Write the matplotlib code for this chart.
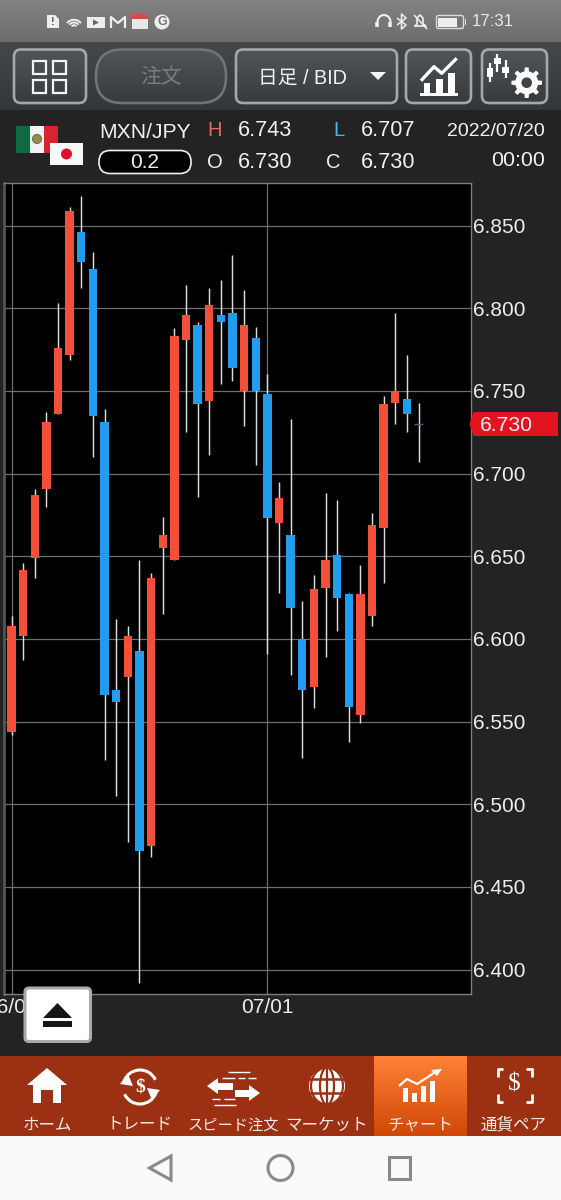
import numpy as np
import matplotlib
matplotlib.use('Agg')
import matplotlib.pyplot as plt
from matplotlib.patches import Rectangle, Circle, Polygon, FancyBboxPatch, Arc, Ellipse
from matplotlib.colors import LinearSegmentedColormap

plt.rcParams['font.family'] = ['Liberation Sans', 'Noto Sans CJK JP', 'DejaVu Sans']

# daily candles
opens = [6.544, 6.602, 6.649, 6.691, 6.736, 6.772, 6.846, 6.824, 6.731, 6.569, 6.577, 6.593,
         6.475, 6.655, 6.648, 6.781, 6.790, 6.744, 6.796, 6.797, 6.750, 6.782, 6.748, 6.670,
         6.663, 6.600, 6.571, 6.631, 6.651, 6.627, 6.554, 6.614, 6.667, 6.743, 6.745, 6.730]
highs = [6.614, 6.646, 6.691, 6.737, 6.803, 6.861, 6.868, 6.834, 6.739, 6.612, 6.608, 6.648,
         6.640, 6.674, 6.788, 6.814, 6.792, 6.812, 6.817, 6.832, 6.811, 6.789, 6.760, 6.695,
         6.733, 6.623, 6.639, 6.688, 6.684, 6.628, 6.645, 6.676, 6.747, 6.797, 6.772, 6.743]
lows = [6.542, 6.587, 6.637, 6.680, 6.736, 6.769, 6.812, 6.710, 6.527, 6.505, 6.477, 6.392,
        6.468, 6.615, 6.648, 6.725, 6.686, 6.711, 6.754, 6.756, 6.729, 6.705, 6.591, 6.628,
        6.578, 6.528, 6.558, 6.589, 6.605, 6.538, 6.549, 6.608, 6.634, 6.730, 6.725, 6.707]
closes = [6.608, 6.642, 6.687, 6.731, 6.776, 6.859, 6.828, 6.735, 6.566, 6.562, 6.602, 6.472,
          6.637, 6.663, 6.783, 6.796, 6.742, 6.802, 6.792, 6.764, 6.790, 6.750, 6.673, 6.685,
          6.619, 6.569, 6.630, 6.648, 6.625, 6.559, 6.627, 6.669, 6.742, 6.750, 6.736, 6.730]

y_ticks = [6.40, 6.45, 6.50, 6.55, 6.60, 6.65, 6.70, 6.75, 6.80, 6.85]
x_tick_index = [0, 22]
x_tick_labels = ['06/01', '07/01']
last_price = 6.730

nav_labels = ['ホーム', 'トレード', 'スピード注文', 'マーケット', 'チャート', '通貨ペア']
nav_centers = [47, 140, 233, 327, 421, 514]

RED = '#f54e39'
BLUE = '#229cee'
WHITE = '#f0f0f0'
NAV = '#9c3013'
PANEL = '#232323'

fig = plt.figure(figsize=(5.61, 12), dpi=100, facecolor=PANEL)


def layer(z):
    # full figure axes in image pixels, y going down
    a = fig.add_axes([0, 0, 1, 1], zorder=z)
    a.set_xlim(0, 561)
    a.set_ylim(1200, 0)
    a.set_autoscale_on(False)
    a.axis('off')
    a.patch.set_alpha(0)
    return a


ui = layer(0)
top = layer(2)


def grad(ax, x0, x1, y0, y1, c0, c1, clip=None, z=1):
    cm = LinearSegmentedColormap.from_list('g', [c0, c1])
    im = ax.imshow(np.linspace(0, 1, 64)[:, None], extent=(x0, x1, y1, y0), cmap=cm,
                   aspect='auto', zorder=z, interpolation='bilinear')
    if clip is not None:
        im.set_clip_path(clip)


def button(x0, x1, y0=49.5, y1=103, edge='#a3a8a8', r=7, ax=ui):
    x0, x1 = x0 + 1, x1 - 1
    box = FancyBboxPatch((x0, y0), x1 - x0, y1 - y0, boxstyle='round,pad=0,rounding_size=%g' % r,
                         fc='none', ec=edge, lw=1.9, zorder=3)
    ax.add_patch(box)
    grad(ax, x0, x1, y0, y1, '#515558', '#383b3e', clip=box, z=2)


def rect(ax, x0, y0, x1, y1, c='white', z=4, **kw):
    ax.add_patch(Rectangle((x0, y0), x1 - x0, y1 - y0, fc=c, ec='none', zorder=z, **kw))


def line(ax, xs, ys, c='white', lw=1.5, z=4, **kw):
    ax.plot(xs, ys, color=c, lw=lw, zorder=z, solid_capstyle='butt', **kw)


def text(ax, x, y, s, size=15, c=WHITE, ha='center', **kw):
    ax.text(x, y, s, fontsize=size, color=c, ha=ha, va='center', zorder=6, **kw)


# backgrounds
grad(ui, 0, 561, 0, 42, '#828282', '#6d6d6d')
grad(ui, 0, 561, 42, 110, '#45484a', '#34373a')
rect(ui, 0, 110, 561, 1056, PANEL, z=1)
rect(ui, 0, 1056, 561, 1136, NAV, z=1)
rect(ui, 0, 1136, 561, 1200, '#fafafa', z=1)
grad(ui, 374, 467, 1056, 1136, '#ff8136', '#cf4807', z=2)

# status bar
ui.add_patch(Polygon([(47, 15), (55, 15), (59, 19), (59, 28), (47, 28)], fc='#eeeeee', zorder=4))
text(ui, 53, 22, '!', 8, '#555555', fontweight='bold')
for r in [15, 10, 5]:
    ui.add_patch(Arc((74, 28), r * 1.15, r * 1.1, theta1=215, theta2=325, ec='#eeeeee', lw=1.4, zorder=4))
rect(ui, 87, 17, 105, 28, '#eeeeee')
ui.add_patch(Polygon([(93, 19.5), (93, 25.5), (99, 22.5)], fc='#666666', zorder=5))
line(ui, [111, 111, 118, 125, 125], [28, 17, 23, 17, 28], '#eeeeee', 1.6)
rect(ui, 132, 18, 148, 29, '#e8e8e8')
rect(ui, 132, 14, 148, 19, '#d84a4a')
ui.add_patch(Circle((162, 22), 7.5, fc='#eeeeee', zorder=4))
text(ui, 162.5, 22, 'G', 9, '#777777', fontweight='bold')
ui.add_patch(Arc((384, 22), 13, 14, theta1=180, theta2=360, ec='#eeeeee', lw=1.5, zorder=4))
line(ui, [377.5, 377.5], [22, 27], '#eeeeee', 2.6)
line(ui, [390.5, 390.5], [22, 27], '#eeeeee', 2.6)
line(ui, [397, 406, 401.5, 401.5, 406, 397], [18, 25, 29, 14, 18, 25], '#eeeeee', 1.1)
line(ui, [415, 417, 417, 420, 423, 423, 426, 414], [26, 24, 18, 15, 18, 24, 26, 26], '#eeeeee', 1.2)
line(ui, [414, 427], [15, 29], '#eeeeee', 1.1)
ui.add_patch(FancyBboxPatch((436.5, 15.5), 27, 13, boxstyle='round,pad=0,rounding_size=2', fc='none',
                            ec='#dddddd', lw=1, zorder=4))
rect(ui, 438.5, 17.5, 457, 26.5, '#eeeeee')
rect(ui, 465, 19, 466.5, 25, '#dddddd')
text(ui, 492.5, 22, '17:31', 12.2, '#e8e8e8')

# toolbar
button(13, 87)
for x0 in (33, 53):
    for y0 in (61, 80):
        ui.add_patch(Rectangle((x0, y0), 13.5, 12.5, fc='none', ec='#f4f4f4', lw=1.6, zorder=4))
button(95, 227, edge='#6f7476', r=26)
text(ui, 161, 78, '注文', 15, '#7c7c7c')
button(235, 398)
text(ui, 302.5, 78, '日足 / BID', 14.2, '#f2f2f2')
ui.add_patch(Polygon([(370, 72), (386, 72), (378, 80)], fc='#f4f4f4', zorder=4))
button(405, 472)
line(ui, [421, 434, 441.7, 456.7], [80.7, 66.7, 73.3, 58.3], 'white', 2.4)
rect(ui, 424, 83, 430, 94)
rect(ui, 436, 79, 443, 94)
rect(ui, 448, 73, 455, 94)
rect(ui, 420, 93, 458, 95.5)
button(481, 548)
for x, w0, w1, b0, b1 in [(490, 63, 82, 68, 77), (497.3, 54, 72, 58, 64), (505.7, 60, 78, 67, 73)]:
    line(ui, [x, x], [w0, w1], 'white', 1.6)
    rect(ui, x - 3.3, b0, x + 3.3, b1)
ang = np.linspace(0, 2 * np.pi, 97)[:-1]
rad = 11.5 + 3.8 * (np.cos(8 * ang) > 0.15)
ui.add_patch(Polygon(np.c_[526.7 + rad * np.cos(ang), 82.7 + rad * np.sin(ang)], fc='white', zorder=4))
ui.add_patch(Circle((526.7, 82.7), 5.3, fc='#404346', zorder=5))

# instrument info
rect(ui, 16, 126, 30, 153, '#0f6b3e')
rect(ui, 30, 126, 44, 153, '#f3f3f3')
rect(ui, 44, 126, 58, 153, '#d8242c')
ui.add_patch(Ellipse((37, 139), 9, 9, fc='#9a8a4a', ec='#5f7a45', lw=0.8, zorder=5))
rect(ui, 50, 143, 83, 165, '#f8f8f8', z=5)
ui.add_patch(Circle((66.5, 154), 5.5, fc='#e0102a', zorder=6))
text(ui, 99, 132, 'MXN/JPY', 15.2, ha='left')
ui.add_patch(FancyBboxPatch((99, 150.5), 92, 23, boxstyle='round,pad=0,rounding_size=11', fc='black',
                            ec='#f0f0f0', lw=1.2, zorder=4))
text(ui, 145, 163, '0.2', 15)
text(ui, 215, 131, 'H', 14.5, '#e06a6a')
text(ui, 339, 131, 'L', 14.5, '#4fb9e6')
text(ui, 215, 162, 'O', 14.5)
text(ui, 333, 162, 'C', 14.5)
text(ui, 238, 131, '6.743', 15.6, ha='left')
text(ui, 238, 162, '6.730', 15.6, ha='left')
text(ui, 361, 131, '6.707', 15.6, ha='left')
text(ui, 361, 162, '6.730', 15.6, ha='left')
text(ui, 545, 131, '2022/07/20', 14, ha='right')
text(ui, 545, 161, '00:00', 15.4, ha='right')

# candle chart
ax = fig.add_axes([3.6 / 561, 1 - 994.3 / 1200, (471 - 3.6) / 561, (994.3 - 182.5) / 1200],
                  zorder=1, facecolor='black')
x = np.arange(len(opens))
o, h, l, c = map(np.array, (opens, highs, lows, closes))
up = c > o
down = c < o
flat = c == o
ax.vlines(x, l, h, color='#dcdcdc', lw=1.05, zorder=3)
ax.bar(x[up], (c - o)[up], bottom=o[up], width=0.72, color=RED, zorder=4)
ax.bar(x[down], (o - c)[down], bottom=c[down], width=0.72, color=BLUE, zorder=4)
ax.hlines(c[flat], x[flat] - 0.38, x[flat] + 0.38, color='#41607c', lw=1, zorder=4)
ax.set_xlim(-0.68, 39.51)
ax.set_ylim(6.3851, 6.8761)
ax.set_yticks(y_ticks)
ax.set_yticklabels(['%.3f' % v for v in y_ticks])
ax.set_xticks(x_tick_index)
ax.set_xticklabels(x_tick_labels)
ax.yaxis.tick_right()
ax.tick_params(axis='y', length=0, pad=1.5, labelsize=15, labelcolor='#eeeeee')
ax.tick_params(axis='x', length=0, pad=3, labelsize=15, labelcolor='#eeeeee')
ax.grid(color='#6e6e6e', lw=0.9, zorder=1)
ax.set_axisbelow(True)
for s in ax.spines.values():
    s.set_color('#7d7d7d')
    s.set_linewidth(1)
ax.spines['left'].set_color('#555555')
ax.spines['left'].set_linewidth(2)

# last price tag, placed through the chart's own scale
tag_y = ax.transData.transform((0, last_price))[1]
tag_y = 1200 - tag_y
top.add_patch(Polygon([(469.5, tag_y), (473.5, tag_y - 12), (558, tag_y - 12), (558, tag_y + 12),
                       (473.5, tag_y + 12)], fc='#e3141f', zorder=3))
text(top, 480, tag_y + 1, '%.3f' % last_price, 15.2, ha='left')

# collapse button
box = FancyBboxPatch((25, 988), 65.5, 53.5, boxstyle='round,pad=0,rounding_size=4', fc='white',
                     ec='#a6abab', lw=2.2, zorder=3)
top.add_patch(box)
top.add_patch(Polygon([(43, 1018), (72, 1018), (57.5, 1003)], fc='#151515', zorder=4))
rect(top, 43, 1021, 72, 1027, '#151515')

# bottom navigation
for s, xc in zip(nav_labels, nav_centers):
    text(ui, xc, 1125, s, 11 if len(s) == 6 else 11.9, '#f7ece6')

ui.add_patch(Polygon([(27, 1085), (47, 1068), (67, 1085)], fc='white', zorder=4))
rect(ui, 33, 1084, 61, 1103)
rect(ui, 41, 1090, 53, 1103, NAV, z=5)

ui.add_patch(Arc((140, 1087), 34, 34, theta1=200, theta2=335, ec='white', lw=2.2, zorder=4))
ui.add_patch(Arc((140, 1087), 34, 34, theta1=20, theta2=155, ec='white', lw=2.2, zorder=4))
ui.add_patch(Polygon([(120, 1084), (128, 1074), (133, 1086)], fc='white', zorder=4))
ui.add_patch(Polygon([(160, 1090), (152, 1100), (147, 1088)], fc='white', zorder=4))
text(ui, 140, 1087, '$', 14, 'white', fontweight='bold', family='Liberation Serif')

ui.add_patch(Polygon([(207, 1086), (218, 1078), (218, 1083), (233, 1083), (233, 1090), (218, 1090), (218, 1094)],
                     fc='white', zorder=4))
ui.add_patch(Polygon([(260, 1093), (249, 1085), (249, 1090), (235, 1090), (235, 1097), (249, 1097), (249, 1101)],
                     fc='white', zorder=4))
for x0, x1, yy in [(228, 250, 1072), (238, 245, 1078), (248, 256, 1078), (222, 235, 1078),
                   (214, 236, 1105), (212, 220, 1099), (224, 235, 1099)]:
    line(ui, [x0, x1], [yy, yy], 'white', 1)

ui.add_patch(Circle((327, 1086), 18, fc='white', zorder=4))
for w in (14, 32):
    ui.add_patch(Ellipse((327, 1086), w, 37, fc='none', ec=NAV, lw=1.6, zorder=5))
line(ui, [327, 327], [1067, 1105], NAV, 1.6, z=5)
line(ui, [307, 347], [1079, 1079], NAV, 1.8, z=5)
line(ui, [307, 347], [1093, 1093], NAV, 1.8, z=5)

for xx, y0 in [(406, 1088), (415, 1093), (424, 1086), (433, 1081)]:
    rect(ui, xx - 2.5, y0, xx + 2.5, 1102)
line(ui, [399, 407, 417, 437], [1086, 1079, 1084, 1071], 'white', 1.6)
ui.add_patch(Polygon([(431, 1070), (442, 1069), (437, 1076)], fc='white', zorder=4))

for xs, ys in [([503, 498, 498], [1069, 1069, 1077]), ([526, 532, 532], [1069, 1069, 1077]),
               ([503, 498, 498], [1102, 1102, 1094]), ([526, 532, 532], [1102, 1102, 1094])]:
    line(ui, xs, ys, 'white', 2)
text(ui, 514.5, 1085, '$', 18, 'white', family='Liberation Serif')

# android keys
ui.add_patch(Polygon([(171, 1156), (149.5, 1168), (171, 1180)], fc='none', ec='#8a8a8a', lw=2.2, zorder=4))
ui.add_patch(Circle((280.5, 1168), 12.5, fc='none', ec='#8a8a8a', lw=2.2, zorder=4))
ui.add_patch(Rectangle((389, 1157), 21, 22, fc='none', ec='#8a8a8a', lw=2.2, zorder=4))

fig.savefig('out.png', dpi=100, facecolor=fig.get_facecolor())
